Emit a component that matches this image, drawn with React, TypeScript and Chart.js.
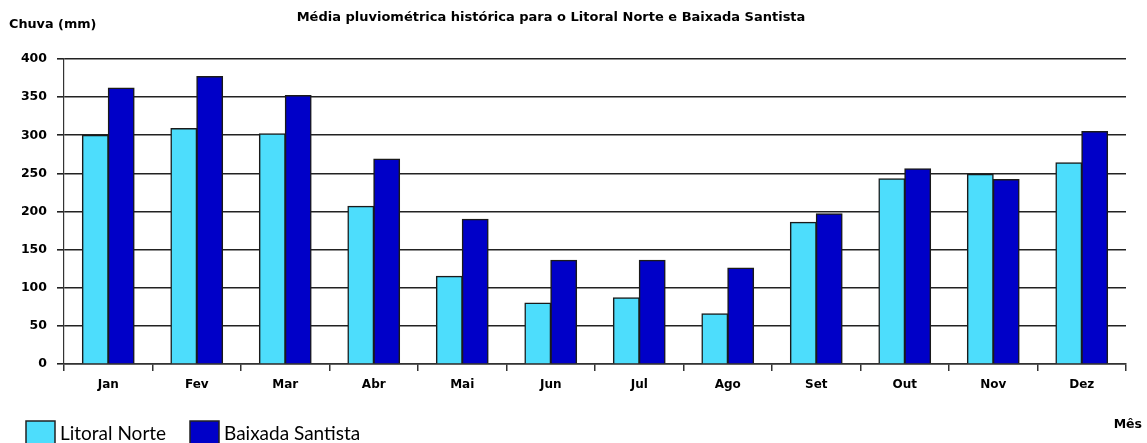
import React, { useEffect, useRef } from "react";
import { Chart, registerables } from "chart.js";

Chart.register(...registerables);

const months = ["Jan", "Fev", "Mar", "Abr", "Mai", "Jun", "Jul", "Ago", "Set", "Out", "Nov", "Dez"];
const litoralNorte = [300, 309, 302, 207, 115, 80, 87, 66, 186, 243, 249, 264];
const baixadaSantista = [362, 377, 352, 269, 190, 136, 136, 126, 197, 256, 242, 305];
const seriesNames = ["Litoral Norte", "Baixada Santista"];
const titleText = "Média pluviométrica histórica para o Litoral Norte e Baixada Santista";
const yLabel = "Chuva (mm)";
const xLabel = "Mês";

const FONT = "'DejaVu Sans', sans-serif";

const textPlugin = {
  id: "texts",
  afterDraw(chart: any) {
    const ctx = chart.ctx;
    ctx.save();
    ctx.fillStyle = "#000";
    ctx.textBaseline = "middle";
    ctx.font = `bold 13px ${FONT}`;
    ctx.textAlign = "center";
    ctx.fillText(titleText, 551, 18);
    ctx.font = `bold 12.8px ${FONT}`;
    ctx.textAlign = "left";
    ctx.fillText(yLabel, 9, 25);
    ctx.font = `bold 12.5px ${FONT}`;
    ctx.textAlign = "right";
    ctx.fillText(xLabel, 1142, 425);
    // legend
    const items = chart.data.datasets;
    const xs = [26, 190];
    items.forEach((ds: any, i: number) => {
      const x = xs[i];
      ctx.fillStyle = ds.backgroundColor;
      ctx.fillRect(x, 421, 29, 24);
      ctx.strokeStyle = "#222";
      ctx.lineWidth = 1.5;
      ctx.strokeRect(x, 421, 29, 24);
      ctx.fillStyle = "#000";
      ctx.font = `19px Lato, sans-serif`;
      ctx.textAlign = "left";
      ctx.fillText(ds.label, x + 34, 434);
    });
    ctx.restore();
  },
};

export default function App() {
  const ref = useRef<HTMLCanvasElement>(null);
  useEffect(() => {
    document.body.style.margin = "0";
    const chart = new Chart(ref.current!, {
      type: "bar",
      data: {
        labels: months,
        datasets: [
          {
            label: seriesNames[0],
            data: litoralNorte,
            backgroundColor: "#4DDDFC",
            borderColor: "#1a1a1a",
            borderWidth: 1.5,
            inflateAmount: 0.5,
            categoryPercentage: 0.585,
            barPercentage: 1,
          },
          {
            label: seriesNames[1],
            data: baixadaSantista,
            backgroundColor: "#0000C8",
            borderColor: "#1a1a1a",
            borderWidth: 1.5,
            inflateAmount: 0.5,
            categoryPercentage: 0.585,
            barPercentage: 1,
          },
        ],
      },
      options: {
        animation: false,
        responsive: false,
        layout: { padding: { left: 0, top: 59, right: 21, bottom: 79 - 30 } },
        plugins: { legend: { display: false }, title: { display: false }, tooltip: { enabled: false } },
        scales: {
          x: {
            offset: true,
            grid: { offset: true, drawOnChartArea: false, color: "#333", lineWidth: 1.5, tickLength: 7 },
            border: { color: "#333", width: 1.5 },
            ticks: { color: "#000", font: { family: FONT, size: 12, weight: "bold" }, padding: 7 },
            afterFit(scale: any) {
              scale.height = 30;
            },
          },
          y: {
            min: 0,
            max: 400,
            ticks: { stepSize: 50, color: "#000", font: { family: FONT, size: 12.5, weight: "bold" }, padding: 10 },
            grid: { color: "#222", lineWidth: 1.6, tickLength: 7 },
            border: { color: "#333", width: 1.2 },
            afterFit(scale: any) {
              scale.width = 64;
            },
          },
        },
      },
      plugins: [textPlugin],
    });
    return () => chart.destroy();
  }, []);
  return (
    <div style={{ width: 1147, height: 443 }}>
      <canvas ref={ref} width={1147} height={443} />
    </div>
  );
}
